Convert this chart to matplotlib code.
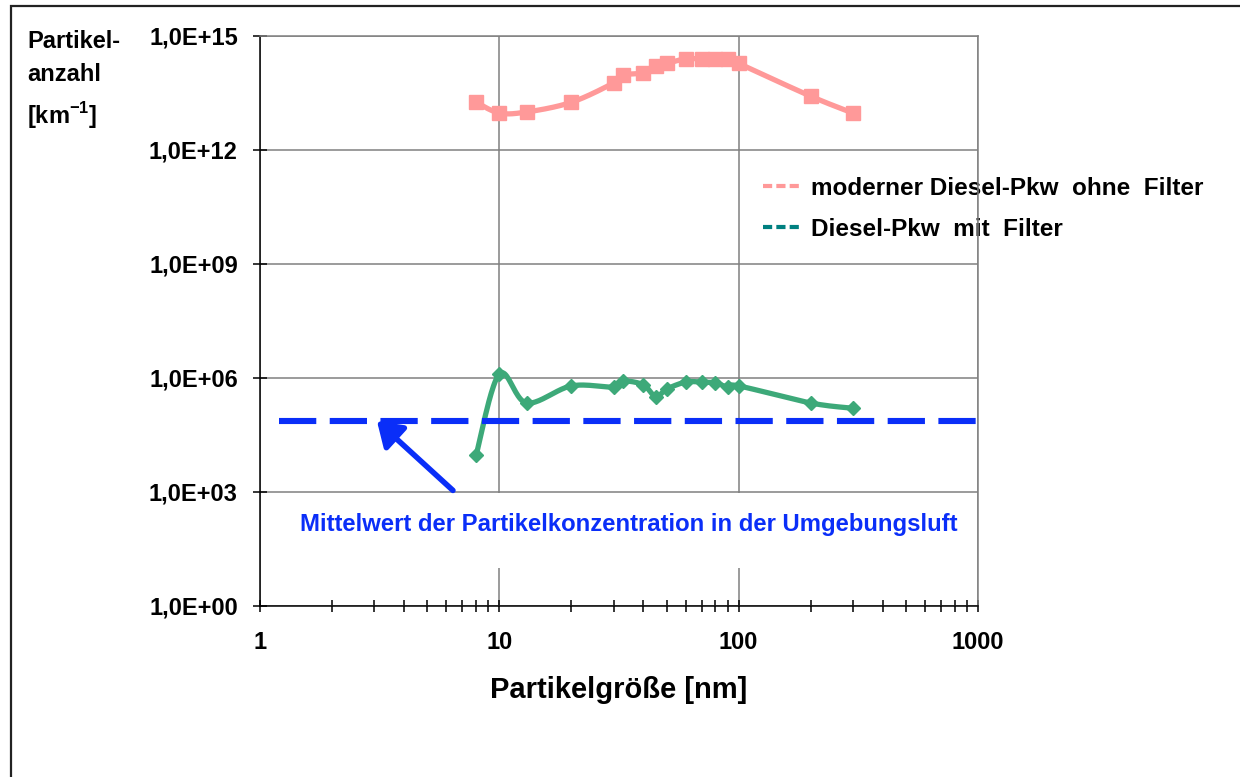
import numpy as np
import matplotlib.pyplot as plt
from matplotlib.lines import Line2D
from matplotlib.patches import Rectangle
from matplotlib.ticker import FixedLocator, NullLocator, FuncFormatter

plt.rcParams['font.family'] = ['Liberation Sans', 'DejaVu Sans']
plt.rcParams['font.weight'] = 'bold'
plt.rcParams['mathtext.fontset'] = 'custom'
plt.rcParams['mathtext.rm'] = 'Liberation Sans:bold'
plt.rcParams['mathtext.bf'] = 'Liberation Sans:bold'

# Partikelgröße [nm]
size_nm = [8, 10, 13, 20, 30, 33, 40, 45, 50, 60, 70, 80, 90, 100, 200, 300]
# Partikelanzahl [1/km]
ohne_filter = [1.8e13, 9.4e12, 1.0e13, 1.8e13, 5.8e13, 9.4e13, 1.07e14, 1.6e14,
               1.9e14, 2.5e14, 2.5e14, 2.5e14, 2.5e14, 1.9e14, 2.6e13, 9.4e12]
mit_filter = [9.4e3, 1.27e6, 2.2e5, 6.2e5, 5.8e5, 8.3e5, 6.6e5, 3.2e5,
              5.1e5, 7.8e5, 7.8e5, 7.4e5, 5.8e5, 6.2e5, 2.2e5, 1.6e5]
# Umgebungsluft (Mittelwert)
umgebung_wert = 7.4e4
umgebung_x = [1.2, 1000]

labels = ['moderner Diesel-Pkw  ohne  Filter', 'Diesel-Pkw  mit  Filter']

PINK = '#FF9999'
GREEN = '#3DA979'
TEAL = '#008080'
BLUE = '#0A2EF8'
GRID = '#808080'


def smooth(xs, ys, n=24):
    # Catmull-Rom in log-space, wie die geglaettete Linie in Excel
    lx, ly = np.log10(xs), np.log10(ys)
    px = np.concatenate([[lx[0]], lx, [lx[-1]]])
    py = np.concatenate([[ly[0]], ly, [ly[-1]]])
    outx, outy = [], []
    t = np.linspace(0, 1, n)
    for i in range(1, len(px) - 2):
        for arr, out in ((px, outx), (py, outy)):
            p0, p1, p2, p3 = arr[i - 1], arr[i], arr[i + 1], arr[i + 2]
            seg = 0.5 * ((2 * p1) + (-p0 + p2) * t
                         + (2 * p0 - 5 * p1 + 4 * p2 - p3) * t ** 2
                         + (-p0 + 3 * p1 - 3 * p2 + p3) * t ** 3)
            out.extend(seg)
    return 10 ** np.array(outx), 10 ** np.array(outy)


fig = plt.figure(figsize=(12.4, 7.77), dpi=100)
ax = fig.add_axes([260 / 1240, 1 - 606 / 777, 718 / 1240, 570 / 777])

ax.set_xscale('log')
ax.set_yscale('log')
ax.set_xlim(1, 1000)
ax.set_ylim(1, 1e15)

sx, sy = smooth(size_nm, ohne_filter)
ax.plot(sx, sy, color=PINK, lw=3.8, zorder=3)
ax.plot(size_nm, ohne_filter, ls='none', marker='s', ms=10, color=PINK, zorder=4)

sx, sy = smooth(size_nm, mit_filter)
ax.plot(sx, sy, color=GREEN, lw=3.8, zorder=3)
ax.plot(size_nm, mit_filter, ls='none', marker='D', ms=7.5, color=GREEN, zorder=4)

ax.plot(umgebung_x, [umgebung_wert, umgebung_wert], color=BLUE, lw=4.4,
        dashes=(6.1, 2.2), zorder=3)

# Achsen
ax.yaxis.set_major_locator(FixedLocator([10.0 ** e for e in range(0, 16, 3)]))
ax.yaxis.set_minor_locator(NullLocator())
ax.yaxis.set_major_formatter(FuncFormatter(lambda v, p: f"1,0E+{int(round(np.log10(v))):02d}"))
ax.xaxis.set_major_locator(FixedLocator([1, 10, 100, 1000]))
ax.xaxis.set_minor_locator(FixedLocator([m * 10 ** e for e in range(0, 3) for m in range(2, 10)]))
ax.xaxis.set_major_formatter(FuncFormatter(lambda v, p: f"{int(v)}"))

ax.tick_params(axis='y', which='major', direction='inout', length=10, width=1.1,
               pad=11, labelsize=17)
ax.tick_params(axis='x', which='both', direction='inout', length=8, width=1.1,
               pad=14, labelsize=17)
ax.tick_params(axis='x', which='minor', labelbottom=False)

ax.grid(True, which='major', color=GRID, lw=1.1, zorder=0)
ax.set_axisbelow(True)
for s in ['top', 'right']:
    ax.spines[s].set_color(GRID)
    ax.spines[s].set_linewidth(1.1)
for s in ['left', 'bottom']:
    ax.spines[s].set_color('black')
    ax.spines[s].set_linewidth(1.1)

ax.set_xlabel('Partikelgröße [nm]', fontsize=21, fontweight='bold', labelpad=16)

fig.text(27 / 1240, 1 - 30 / 777, 'Partikel-\nanzahl\n[km$^{-1}$]', fontsize=17,
         fontweight='bold', va='top', ha='left', linespacing=1.58)

# Legende
handles = [Line2D([], [], color=PINK, lw=3, dashes=(2.2, 1)),
           Line2D([], [], color=TEAL, lw=3, dashes=(2.2, 1))]
leg = ax.legend(handles, labels, loc='upper left', frameon=False,
                bbox_to_anchor=(763 / 1240, 1 - 177 / 777),
                bbox_transform=fig.transFigure, borderaxespad=0, borderpad=0,
                handlelength=1.65, handletextpad=0.33, labelspacing=0.72,
                prop={'size': 17.5, 'weight': 'bold'})
leg.set_zorder(1)

# Umgebungsluft Annotation (weisses Textfeld ueber dem Gitter)
ax.add_patch(Rectangle((0.003, 38 / 570), 0.996, 75 / 570, transform=ax.transAxes,
                       fc='white', ec='none', zorder=1))
ax.text(629 / 1240, 1 - 524 / 777,
        'Mittelwert der Partikelkonzentration in der Umgebungsluft',
        transform=fig.transFigure, ha='center', va='center', color=BLUE,
        fontsize=17.2, fontweight='bold', zorder=10)
ax.annotate('', xy=(3.08, umgebung_wert), xytext=(6.4, 1.1e3),
            arrowprops=dict(arrowstyle='-|>,head_length=0.6,head_width=0.4',
                            color=BLUE, lw=4, mutation_scale=24,
                            shrinkA=0, shrinkB=0),
            zorder=11)

# Rahmen
fig.patches.append(Rectangle((11 / 1240, -0.05), 1.2, 1 - 6 / 777 + 0.05,
                             transform=fig.transFigure, fill=False,
                             ec='#222222', lw=1.6))

fig.savefig('out.png', dpi=100)
